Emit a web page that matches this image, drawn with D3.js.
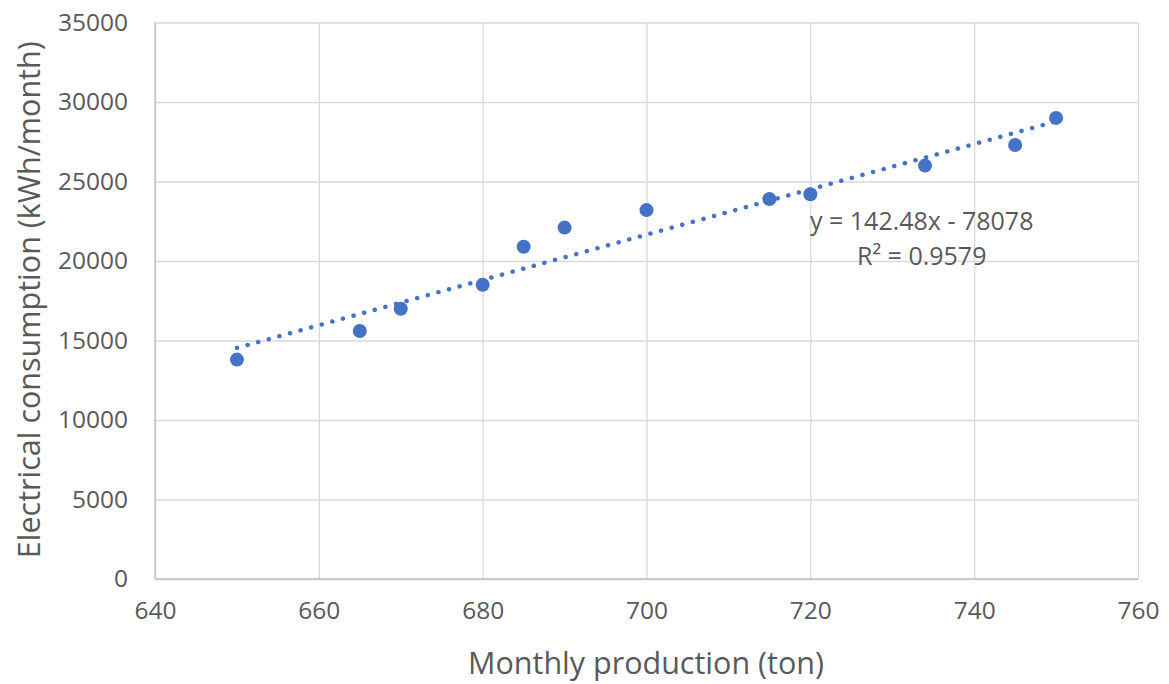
<!DOCTYPE html>
<html><head><meta charset="utf-8">
<script src="https://cdn.jsdelivr.net/npm/d3@7"></script>
<style>body{margin:0;background:#fff}svg{display:block}text{font-family:"Open Sans",sans-serif;fill:#595959}</style>
</head><body><svg id="c" width="1169" height="684"></svg>
<script>
const production = [650, 665, 670, 680, 685, 690, 700, 715, 720, 734, 745, 750];
const consumption = [13800, 15600, 17000, 18500, 20900, 22100, 23200, 23900, 24200, 26000, 27300, 29000];
const xTicks = [640, 660, 680, 700, 720, 740, 760];
const yTicks = [0, 5000, 10000, 15000, 20000, 25000, 30000, 35000];
const slope = 142.48, intercept = -78078;
const eqLines = ["y = 142.48x - 78078", "R² = 0.9579"];
const xTitle = "Monthly production (ton)";
const yTitle = "Electrical consumption (kWh/month)";

const svg = d3.select("#c");
const L = 155, R = 1138, T = 22.5, B = 579;
const x = d3.scaleLinear().domain([640, 760]).range([L, R]);
const y = d3.scaleLinear().domain([0, 35000]).range([B, T]);
const blue = "#4472C4";

// gridlines
const gy = svg.append("g").attr("transform", `translate(${L},0)`)
  .call(d3.axisLeft(y).tickValues(yTicks).tickSize(-(R - L)).tickFormat(""));
const gx = svg.append("g").attr("transform", `translate(0,${B})`)
  .call(d3.axisBottom(x).tickValues(xTicks).tickSize(-(B - T)).tickFormat(""));
[gy, gx].forEach(g => { g.select(".domain").remove(); g.selectAll("line").attr("stroke", "#D9D9D9").attr("stroke-width", 1.3); });
// axis lines
svg.append("line").attr("x1", L).attr("x2", L).attr("y1", T).attr("y2", B).attr("stroke", "#BFBFBF").attr("stroke-width", 1.3);
svg.append("line").attr("x1", L).attr("x2", R).attr("y1", B).attr("y2", B).attr("stroke", "#BFBFBF").attr("stroke-width", 1.3);

// tick labels
const yl = svg.append("g").attr("transform", `translate(${L},0)`)
  .call(d3.axisLeft(y).tickValues(yTicks).tickSize(0).tickPadding(27).tickFormat(d3.format("d")));
const xl = svg.append("g").attr("transform", `translate(0,${B})`)
  .call(d3.axisBottom(x).tickValues(xTicks).tickSize(0).tickPadding(23).tickFormat(d3.format("d")));
[yl, xl].forEach(g => { g.select(".domain").remove(); g.selectAll("text").attr("font-size", 24.5).attr("fill", "#595959").attr("font-family", "Open Sans"); });

// trendline
const x0 = d3.min(production), x1 = d3.max(production);
svg.append("line")
  .attr("x1", x(x0)).attr("y1", y(slope * x0 + intercept))
  .attr("x2", x(x1)).attr("y2", y(slope * x1 + intercept))
  .attr("stroke", blue).attr("stroke-width", 4.5).attr("stroke-linecap", "round")
  .attr("stroke-dasharray", "0.1 10.9");

// points
svg.append("g").selectAll("circle").data(production).join("circle")
  .attr("cx", d => x(d)).attr("cy", (d, i) => y(consumption[i])).attr("r", 7).attr("fill", blue);

// equation
svg.append("text").attr("x", x(733.6)).attr("y", 230).attr("text-anchor", "middle").attr("font-size", 25).text(eqLines[0]);
svg.append("text").attr("x", x(733.6)).attr("y", 265).attr("text-anchor", "middle").attr("font-size", 25).text(eqLines[1]);

// titles
svg.append("text").attr("x", 646).attr("y", 674).attr("text-anchor", "middle").attr("font-size", 30.5).text(xTitle);
svg.append("text").attr("transform", `translate(40,${(T + B) / 2 - 1}) rotate(-90)`).attr("text-anchor", "middle").attr("font-size", 30.5).text(yTitle);
</script></body></html>
